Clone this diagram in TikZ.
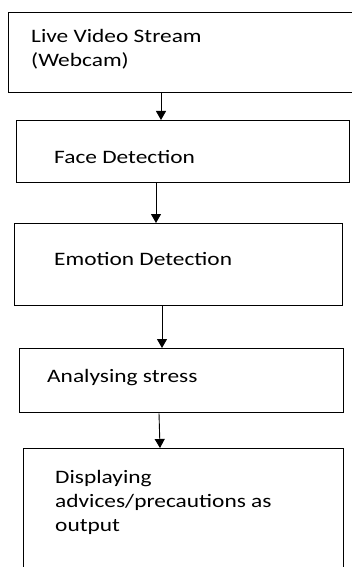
\documentclass[tikz,border=0pt]{standalone}
\usepackage{fontspec}
\setmainfont{Carlito}[FakeStretch=1.23]
\usetikzlibrary{arrows.meta,positioning}

\begin{document}
\begin{tikzpicture}[x=1pt,y=-1pt,
    stage/.style={draw,line width=1.3pt,rectangle,inner sep=0pt,anchor=north west},
    lbl/.style={anchor=north west,inner sep=0pt,align=left,
      font=\fontsize{19}{24}\selectfont},
    flow/.style={-{Triangle[width=10pt,length=9pt]},line width=0.9pt}]
  \useasboundingbox (0,0) rectangle (351,567);
  % boxes
  \node[stage,minimum width=370pt,minimum height=80pt] (webcam) at (8,12) {};
  \node[stage,minimum width=333pt,minimum height=62pt] (face) at (16,120) {};
  \node[stage,minimum width=328pt,minimum height=82pt] (emotion) at (14,223) {};
  \node[stage,minimum width=324pt,minimum height=64pt] (stress) at (19,348) {};
  \node[stage,minimum width=320pt,minimum height=140pt] (advice) at (23,448) {};
  % texts
  \node[lbl] (webcamText) at ([xshift=23pt,yshift=-17pt]webcam.north west)
    {Live Video Stream\\(Webcam)};
  \node[lbl] (faceText) at ([xshift=38pt,yshift=-30pt]face.north west)
    {Face Detection};
  \node[lbl] (emotionText) at ([xshift=40pt,yshift=-29pt]emotion.north west)
    {Emotion Detection};
  \node[lbl] (stressText) at ([xshift=28pt,yshift=-21pt]stress.north west)
    {Analysing stress};
  \node[lbl] (adviceText) at ([xshift=32pt,yshift=-22pt]advice.north west)
    {Displaying\\advices/precautions as\\output};
  % arrows
  \draw[flow] ([xshift=153pt]webcam.south west) -- ([xshift=145pt]face.north west);
  \draw[flow] ([xshift=140pt]face.south west) -- ([xshift=142pt]emotion.north west);
  \draw[flow] ([xshift=148pt]emotion.south west) -- ([xshift=143pt]stress.north west);
  \draw[flow] ([xshift=140pt]stress.south west) -- ([xshift=137pt]advice.north west);
\end{tikzpicture}
\end{document}
